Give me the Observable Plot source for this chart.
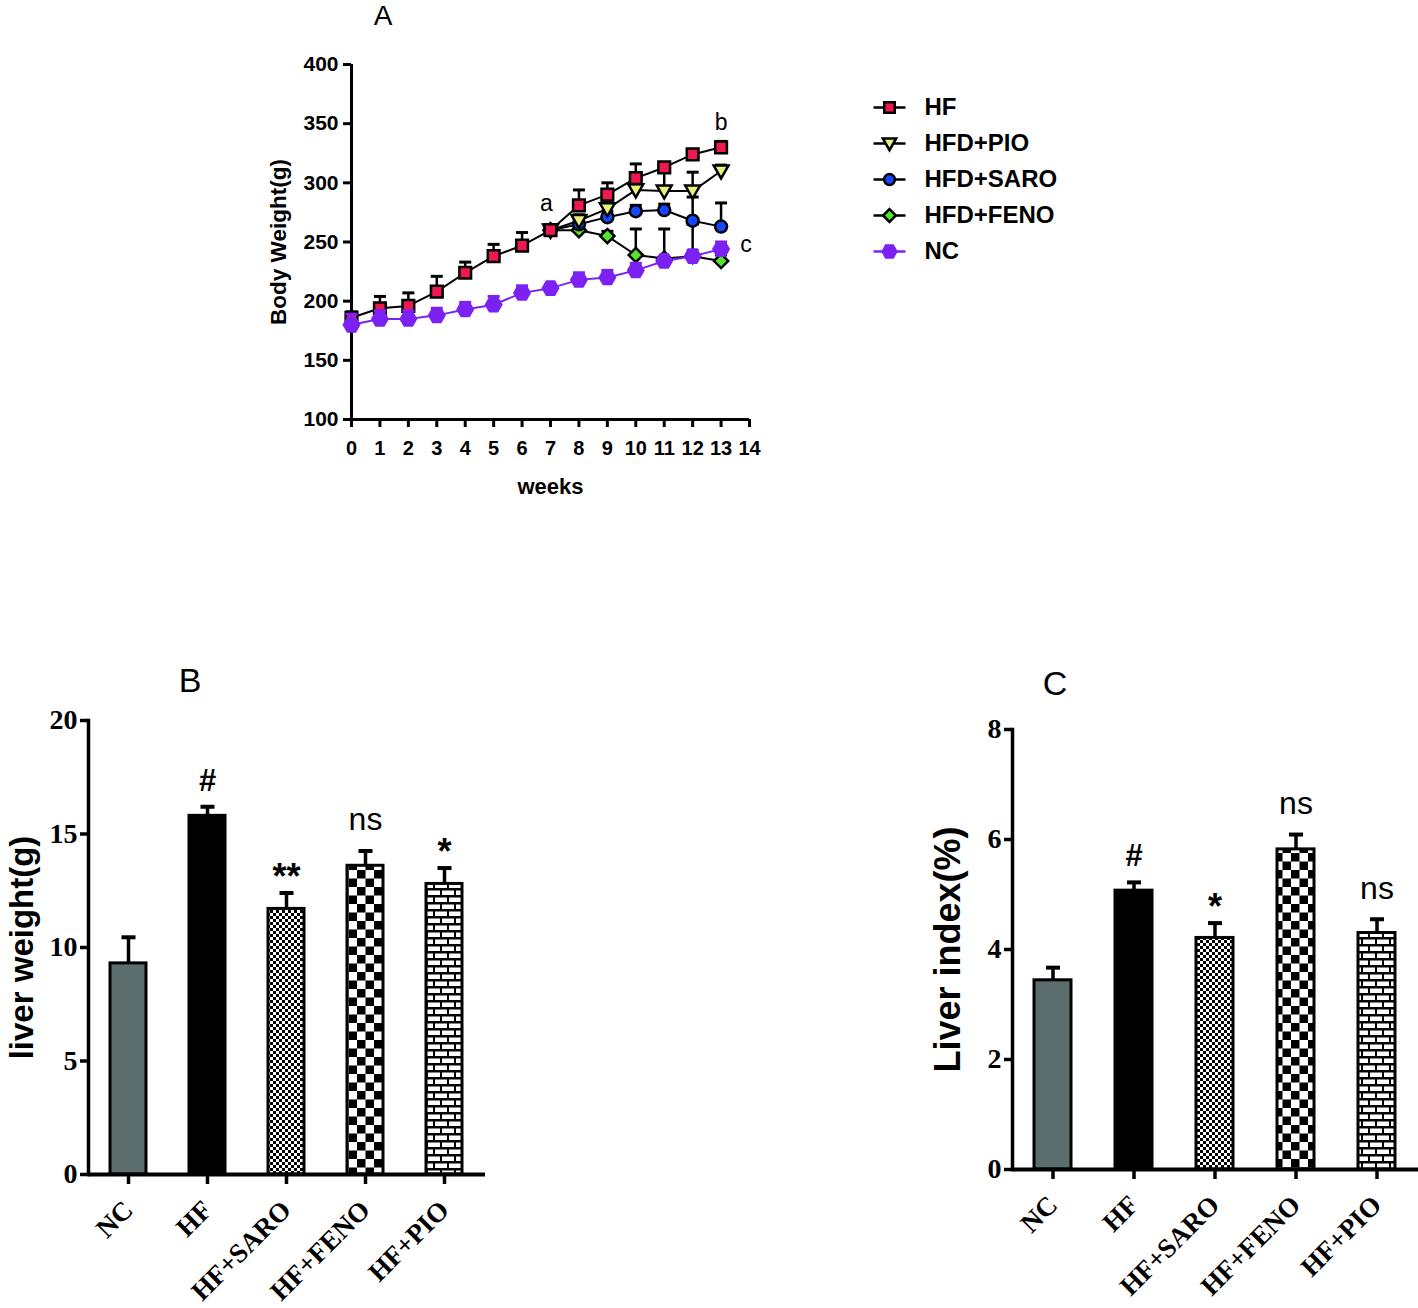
<!DOCTYPE html>
<html>
<head>
<meta charset="utf-8">
<script src="https://cdn.jsdelivr.net/npm/d3@7"></script>
<script src="https://cdn.jsdelivr.net/npm/@observablehq/plot@0.6"></script>
<style>
  body { margin: 0; background: #fff; }
  #page { position: relative; width: 1418px; height: 1308px; overflow: hidden; background: #fff;
          font-family: "Liberation Sans", Arial, sans-serif; color: #000; }
  .panel { position: absolute; }
  .title { position: absolute; transform: translate(-50%, -50%); line-height: 1.1; font-family: "Liberation Sans", Arial, sans-serif; }
</style>
</head>
<body>
<div id="page">
  <svg width="0" height="0" style="position:absolute">
    <defs>
      <pattern id="fineCheck" patternUnits="userSpaceOnUse" width="6" height="6">
        <rect width="6" height="6" fill="#fff"/>
        <rect x="0" y="0" width="3" height="3" fill="#000"/>
        <rect x="3" y="3" width="3" height="3" fill="#000"/>
      </pattern>
      <pattern id="bigCheck" patternUnits="userSpaceOnUse" width="17" height="17">
        <rect width="17" height="17" fill="#fff"/>
        <rect x="0" y="0" width="8.5" height="8.5" fill="#000"/>
        <rect x="8.5" y="8.5" width="8.5" height="8.5" fill="#000"/>
      </pattern>
      <pattern id="brick" patternUnits="userSpaceOnUse" width="14" height="14">
        <rect width="14" height="14" fill="#000"/>
        <rect x="1" y="1.5" width="12" height="4.5" fill="#fff"/>
        <rect x="-6" y="8.5" width="12" height="4.5" fill="#fff"/>
        <rect x="8" y="8.5" width="12" height="4.5" fill="#fff"/>
      </pattern>
    </defs>
  </svg>
  <div class="title" style="left:383px;top:16px;font-size:28px;">A</div>
  <div class="title" style="left:190px;top:681px;font-size:34px;">B</div>
  <div class="title" style="left:1055px;top:684px;font-size:34px;">C</div>
  <div class="panel" id="panelA" style="left:0;top:0;"></div>
  <div class="panel" id="legendA" style="left:860px;top:85px;"></div>
  <div class="panel" id="panelB" style="left:0;top:700px;"></div>
  <div class="panel" id="panelC" style="left:900px;top:700px;"></div>
</div>
<script>
// ---------------- Data: panel A (body weight, g) ----------------
const weeks = [0, 1, 2, 3, 4, 5, 6, 7, 8, 9, 10, 11, 12, 13];
const weekTicks = [0, 1, 2, 3, 4, 5, 6, 7, 8, 9, 10, 11, 12, 13, 14];
const weightTicks = [100, 150, 200, 250, 300, 350, 400];
const seriesNames = ["HF", "HFD+PIO", "HFD+SARO", "HFD+FENO", "NC"];

const hf       = [186, 194, 196, 208, 224, 238, 247, 260, 281, 290, 304, 313, 324, 330];
const hfErr    = [5, 10, 11, 13, 9, 10, 11, 3, 13, 10, 12, 4, 4, 5];
const pio      = [null, null, null, null, null, null, null, 260, 268, 278, 294, 293, 293, 310];
const pioErr   = [null, null, null, null, null, null, null, 3, 5, 6, 6, 17, 16, 5];
const saro     = [null, null, null, null, null, null, null, 260, 265, 271, 276, 277, 268, 263];
const saroErr  = [null, null, null, null, null, null, null, 3, 4, 5, 5, 5, 20, 20];
const feno     = [null, null, null, null, null, null, null, 260, 260, 255, 239, 236, 238, 234];
const fenoErr  = [null, null, null, null, null, null, null, 3, 3, 4, 22, 25, 27, 5];
const nc       = [180, 185, 185, 188, 193, 197, 207, 211, 218, 220, 226, 234, 238, 244];
const ncErr    = [9, 7, 7, 6, 6, 7, 6, 3, 6, 6, 6, 3, 5, 6];

const annotLabels = ["a", "b", "c"];

// ---------------- Data: panels B & C ----------------
const groups = ["NC", "HF", "HF+SARO", "HF+FENO", "HF+PIO"];
const liverWeight    = [9.3, 15.8, 11.7, 13.6, 12.8];
const liverWeightErr = [1.15, 0.4, 0.7, 0.65, 0.7];
const sigB           = ["", "#", "**", "ns", "*"];
const weightBarTicks = [0, 5, 10, 15, 20];

const liverIndex     = [3.44, 5.07, 4.21, 5.82, 4.30];
const liverIndexErr  = [0.23, 0.15, 0.27, 0.27, 0.25];
const sigC           = ["", "#", "*", "ns", "ns"];
const indexTicks     = [0, 2, 4, 6, 8];

// ---------------- Styles ----------------
const SANS = "Liberation Sans, Arial, sans-serif";
const SERIF = "Liberation Serif, Times New Roman, serif";

const triDown = { draw(ctx, size) { const r = Math.sqrt(size / Math.PI);
  ctx.moveTo(-1.2 * r, -0.9 * r); ctx.lineTo(1.2 * r, -0.9 * r); ctx.lineTo(0, 1.2 * r); ctx.closePath(); } };
const hexagon = { draw(ctx, size) { const r = Math.sqrt(size / Math.PI) * 1.12;
  for (let i = 0; i < 6; i++) { const a = i * Math.PI / 3; const x = r * Math.cos(a), y = r * Math.sin(a);
    if (i === 0) ctx.moveTo(x, y); else ctx.lineTo(x, y); } ctx.closePath(); } };
const capA = { draw(ctx) { ctx.moveTo(-6, 0); ctx.lineTo(6, 0); } };
const capBar = { draw(ctx) { ctx.moveTo(-7, 0); ctx.lineTo(7, 0); } };
const legendLine = { draw(ctx) { ctx.moveTo(-16, 0); ctx.lineTo(16, 0); } };

const seriesStyle = {
  "HF":       { symbol: "square",  r: 6.6, fill: "#f0194f", stroke: "#000", line: "#000" },
  "HFD+PIO":  { symbol: triDown,   r: 6.2, fill: "#e8f27a", stroke: "#000", line: "#000" },
  "HFD+SARO": { symbol: "circle",  r: 6.0, fill: "#1446ff", stroke: "#000", line: "#000" },
  "HFD+FENO": { symbol: "diamond2",r: 6.4, fill: "#52e82a", stroke: "#000", line: "#000" },
  "NC":       { symbol: hexagon,   r: 6.8, fill: "#7b22f2", stroke: "#7b22f2", line: "#7b22f2" }
};
const seriesData = {
  "HF": [hf, hfErr], "HFD+PIO": [pio, pioErr], "HFD+SARO": [saro, saroErr],
  "HFD+FENO": [feno, fenoErr], "NC": [nc, ncErr]
};
const drawOrder = ["HFD+FENO", "HFD+SARO", "HFD+PIO", "HF", "NC"];

function rowsFor(name) {
  const [v, e] = seriesData[name];
  return weeks.map((w, i) => ({ series: name, week: w, value: v[i], err: e[i] })).filter(d => d.value != null);
}

// ---------------- Panel A ----------------
const last = weeks.length - 1;
const annotMarks = [
  Plot.text([{ label: annotLabels[0], week: weeks[7], value: hf[7] }], { x: "week", y: "value", text: "label", dx: -4, dy: -27, fontSize: 23 }),
  Plot.text([{ label: annotLabels[1], week: weeks[last], value: hf[last] }], { x: "week", y: "value", text: "label", dx: 0, dy: -25, fontSize: 23 }),
  Plot.text([{ label: annotLabels[2], week: weeks[last], value: nc[last] }], { x: "week", y: "value", text: "label", dx: 25, dy: -4, fontSize: 23 })
];

const seriesMarks = drawOrder.flatMap(name => {
  const s = seriesStyle[name];
  const rows = rowsFor(name);
  return [
    Plot.line(rows, { x: "week", y: "value", stroke: s.line, strokeWidth: 2 }),
    Plot.ruleX(rows, { x: "week", y1: "value", y2: d => d.value + d.err, stroke: s.line, strokeWidth: 2.5 }),
    Plot.dot(rows, { x: "week", y: d => d.value + d.err, symbol: capA, r: 5, fill: "none", stroke: s.line, strokeWidth: 3 }),
    Plot.dot(rows, { x: "week", y: "value", symbol: s.symbol, r: s.r, fill: s.fill, stroke: s.stroke, strokeWidth: 2.5 })
  ];
});

const chartA = Plot.plot({
  width: 800, height: 520,
  marginLeft: 351, marginRight: 51, marginTop: 64, marginBottom: 101,
  style: { fontFamily: SANS, color: "#000", background: "transparent", overflow: "visible" },
  x: { domain: [weekTicks[0], weekTicks[weekTicks.length - 1]], axis: null },
  y: { domain: [weightTicks[0], weightTicks[weightTicks.length - 1]], axis: null },
  marks: [
    Plot.axisY({ ticks: weightTicks, tickSize: 8, tickPadding: 5, strokeWidth: 3, fontSize: 21, fontWeight: "bold", label: null }),
    Plot.axisX({ ticks: weekTicks, tickSize: 8, tickPadding: 13, strokeWidth: 3, fontSize: 20, fontWeight: "bold", label: null }),
    Plot.ruleX([weekTicks[0]], { y1: weightTicks[0], y2: weightTicks[weightTicks.length - 1], strokeWidth: 3 }),
    Plot.ruleY([weightTicks[0]], { strokeWidth: 3 }),
    Plot.text(["Body Weight(g)"], { frameAnchor: "left", textAnchor: "middle", dx: -73, rotate: -90, fontSize: 22.5, fontWeight: "bold" }),
    Plot.text(["weeks"], { frameAnchor: "bottom", dy: 74, fontSize: 22, fontWeight: "bold" }),
    ...seriesMarks,
    ...annotMarks
  ]
});
document.getElementById("panelA").append(chartA);

// Legend for panel A
const legendMarks = seriesNames.flatMap(name => {
  const s = seriesStyle[name];
  return [
    Plot.dot([name], { y: d => d, frameAnchor: "left", dx: 29, symbol: legendLine, r: 5, fill: "none", stroke: s.line, strokeWidth: 2.5 }),
    Plot.dot([name], { y: d => d, frameAnchor: "left", dx: 29, symbol: s.symbol, r: s.r * 0.9, fill: s.fill, stroke: s.stroke, strokeWidth: 2.5 }),
    Plot.text([name], { y: d => d, frameAnchor: "left", dx: 64, textAnchor: "start", fontSize: 24, fontWeight: "bold" })
  ];
});
const legend = Plot.plot({
  width: 220, height: 190, marginTop: 21, marginBottom: 23, marginLeft: 0, marginRight: 0,
  style: { fontFamily: SANS, color: "#000", background: "transparent", overflow: "visible" },
  x: { axis: null }, y: { type: "point", domain: seriesNames, padding: 0, axis: null },
  marks: legendMarks
});
document.getElementById("legendA").append(legend);

// ---------------- Bar panels ----------------
const barFills = { "NC": "#5b6d6c", "HF": "#000", "HF+SARO": "url(#fineCheck)", "HF+FENO": "url(#bigCheck)", "HF+PIO": "url(#brick)" };

function barChart({ values, errs, sigs, ticks, ylabel, labelDx, labelSize, width, marginLeft, marginRight, marginTop, height, marginBottom }) {
  const table = groups.map((g, i) => ({ group: g, value: values[i], err: errs[i], sig: sigs[i] }));
  const bars = table.map(row => Plot.barY([row], { x: "group", y: "value", fill: barFills[row.group], stroke: "#000", strokeWidth: 3 }));
  return Plot.plot({
    width, height, marginLeft, marginRight, marginTop, marginBottom,
    style: { fontFamily: SERIF, color: "#000", background: "transparent", overflow: "visible" },
    x: { domain: groups, paddingInner: 0.54, paddingOuter: 0.27, axis: null },
    y: { domain: [ticks[0], ticks[ticks.length - 1]], axis: null },
    marks: [
      ...bars,
      Plot.ruleX(table, { x: "group", y1: "value", y2: d => d.value + d.err, strokeWidth: 3.5 }),
      Plot.dot(table, { x: "group", y: d => d.value + d.err, symbol: capBar, r: 5, fill: "none", stroke: "#000", strokeWidth: 4 }),
      Plot.text(table.filter(d => d.sig === "#"), { x: "group", y: d => d.value + d.err, text: "sig", dy: -26, fontFamily: SANS, fontWeight: "bold", fontSize: 31 }),
      Plot.text(table.filter(d => d.sig.startsWith("*")), { x: "group", y: d => d.value + d.err, text: "sig", dy: -16, fontFamily: SANS, fontWeight: "bold", fontSize: 36 }),
      Plot.text(table.filter(d => d.sig === "ns"), { x: "group", y: d => d.value + d.err, text: "sig", dy: -31, fontFamily: SANS, fontSize: 32 }),
      Plot.axisY({ ticks, tickSize: 8, tickPadding: 3, strokeWidth: 3.5, fontFamily: SERIF, fontWeight: "bold", fontSize: 28, label: null }),
      Plot.axisX({ tickSize: 10, tickPadding: 21, strokeWidth: 3.5, tickRotate: -45, fontFamily: SERIF, fontWeight: "bold", fontSize: 27, label: null }),
      Plot.ruleY([ticks[0]], { strokeWidth: 4 }),
      Plot.frame({ anchor: "left", strokeWidth: 3.5 }),
      Plot.text([ylabel], { frameAnchor: "left", textAnchor: "middle", dx: labelDx, rotate: -90, fontFamily: SANS, fontWeight: "bold", fontSize: labelSize })
    ]
  });
}

document.getElementById("panelB").append(barChart({
  values: liverWeight, errs: liverWeightErr, sigs: sigB, ticks: weightBarTicks, ylabel: "liver weight(g)", labelDx: -66, labelSize: 33,
  width: 500, height: 608, marginLeft: 88, marginRight: 15, marginTop: 20, marginBottom: 134
}));
document.getElementById("panelC").append(barChart({
  values: liverIndex, errs: liverIndexErr, sigs: sigC, ticks: indexTicks, ylabel: "Liver index(%)", labelDx: -64, labelSize: 36,
  width: 518, height: 608, marginLeft: 112, marginRight: 0, marginTop: 29, marginBottom: 139
}));
</script>
</body>
</html>
